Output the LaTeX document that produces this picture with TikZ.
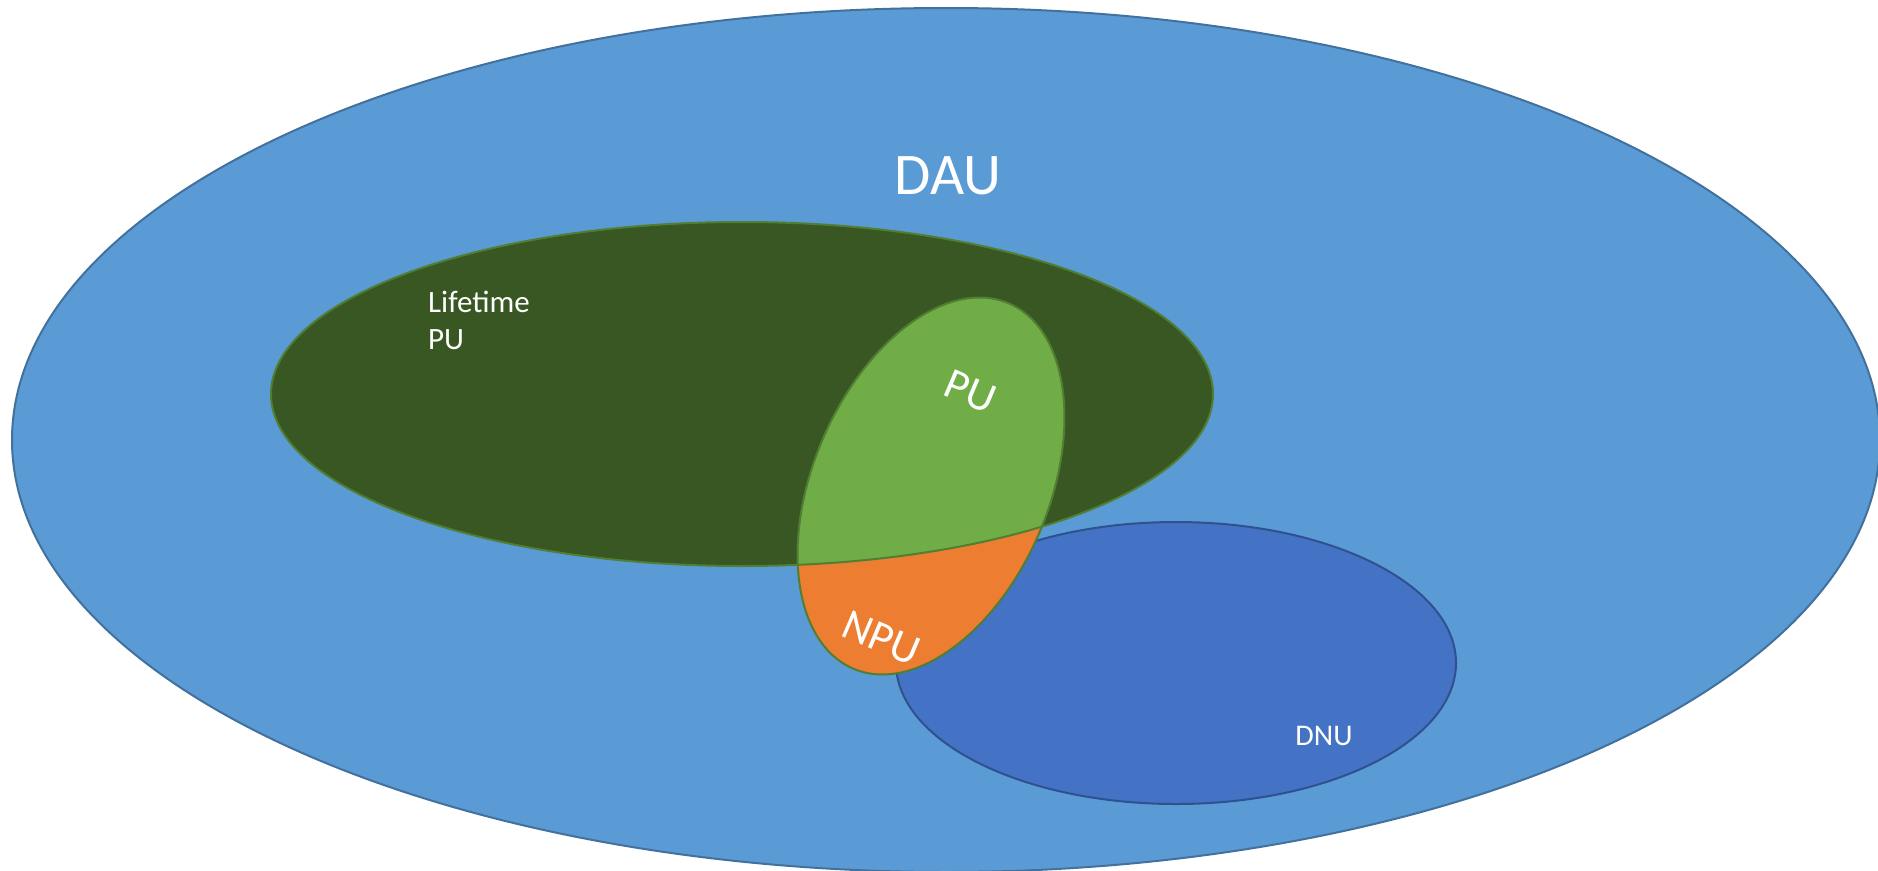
\documentclass[tikz,border=0pt]{standalone}
\usepackage{fontspec}
\setmainfont{Carlito}
\definecolor{daublue}{HTML}{5B9BD5}
\definecolor{dauline}{HTML}{41719C}
\definecolor{lifegreen}{HTML}{385723}
\definecolor{puline}{HTML}{507E32}
\definecolor{pugreen}{HTML}{70AD47}
\definecolor{npuorange}{HTML}{ED7D31}
\definecolor{dnublue}{HTML}{4472C4}
\definecolor{dnuline}{HTML}{2F528F}

\begin{document}
\begin{tikzpicture}[x=1pt,y=1pt,
	vtext/.style={text=white,inner sep=0pt},
	setline/.style={line width=2pt}]

		\useasboundingbox (0,0) rectangle (1878,-870);
		\clip (0,0) rectangle (1878,-870);
		\coordinate (dau) at (946,-440);
		\coordinate (dnu) at (1176,-663);
		\coordinate (life) at (742,-394);
		\coordinate (pu) at (931,-486);
		\draw[setline,draw=dauline,fill=daublue] (dau) ellipse (934 and 432);
		\draw[setline,draw=dnuline,fill=dnublue] (dnu) ellipse (280 and 141);
		\fill[lifegreen] (life) ellipse (471 and 172);
		\fill[npuorange,rotate around={67:(pu)}] (pu) ellipse (198.5 and 118);
		\begin{scope}
			\clip (life) ellipse (471 and 172);
			\fill[pugreen,rotate around={67:(pu)}] (pu) ellipse (198.5 and 118);
		\end{scope}
		\draw[setline,draw=puline] (life) ellipse (471 and 172);
		\draw[setline,draw=puline,rotate around={67:(pu)}] (pu) ellipse (198.5 and 118);
		\node[vtext,font=\fontsize{59}{70}\selectfont] (daulabel) at (948,-176) {DAU};
		\node[vtext,align=left,anchor=north west,font=\fontsize{31}{37}\selectfont] (lifelabel) at (428,-291) {Lifetime\\PU};
		\node[vtext,font=\fontsize{30}{36}\selectfont] (dnulabel) at (1324,-736) {DNU};
		\node[vtext,rotate=-23,font=\fontsize{44}{52}\selectfont] (pulabel) at (970,-392) {PU};
		\node[vtext,rotate=-23,font=\fontsize{44}{52}\selectfont] (npulabel) at (881,-638) {NPU};
	\end{tikzpicture}
\end{document}
